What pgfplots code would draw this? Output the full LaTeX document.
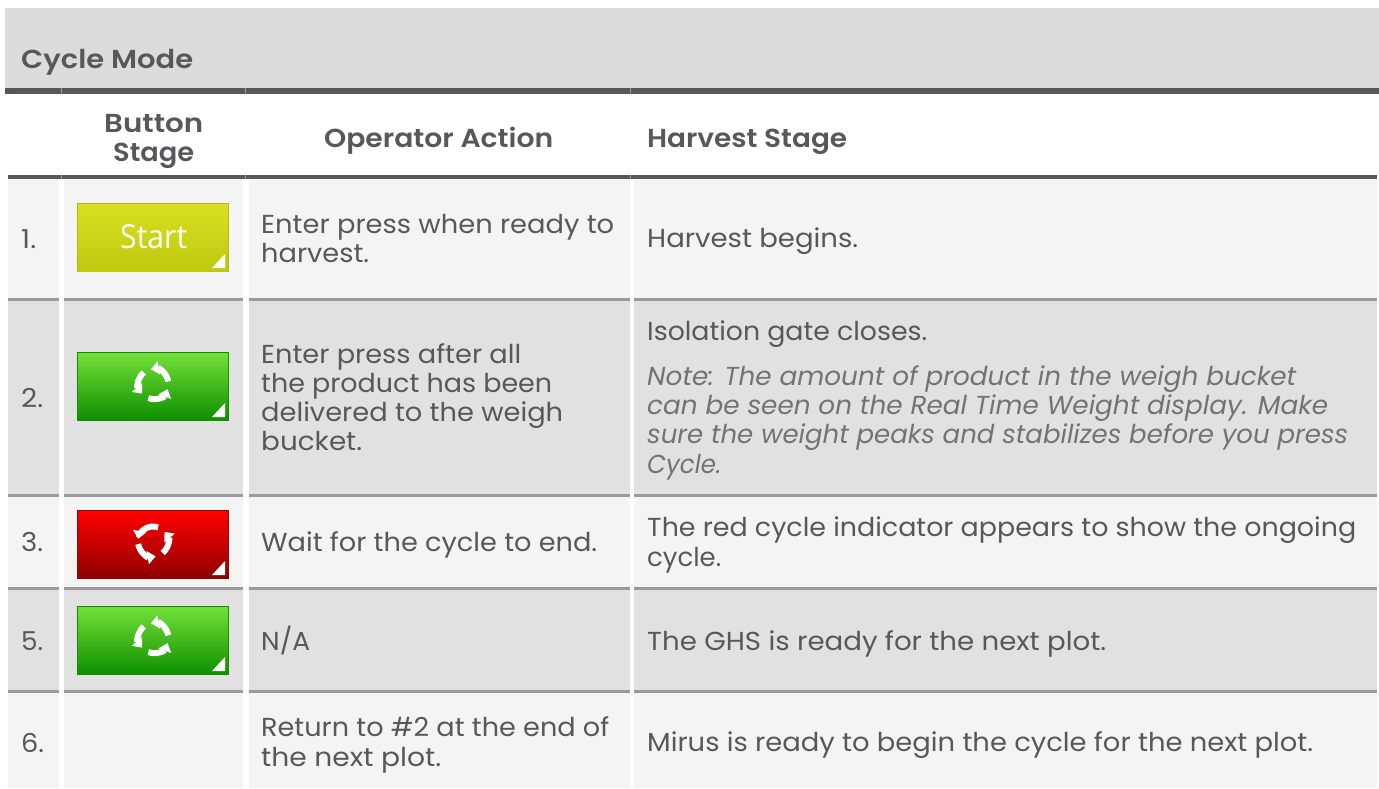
\documentclass[border=0pt]{standalone}
\usepackage{fontspec}
\setmainfont[BoldFont={Poppins SemiBold}]{Poppins}
\newfontfamily\startfont{Open Sans}
\usepackage{graphicx}
\usepackage{pgfplots}
\pgfplotsset{compat=1.18}
\usetikzlibrary{arrows.meta}
\definecolor{ink}{HTML}{55595B}
\definecolor{note}{HTML}{707476}
\definecolor{rowa}{HTML}{F4F4F4}
\definecolor{rowb}{HTML}{E1E1E1}
\definecolor{head}{HTML}{DCDCDC}
\definecolor{sep}{HTML}{9A9A9A}
\definecolor{ytop}{HTML}{D9E021}
\definecolor{ybot}{HTML}{C0C810}
\definecolor{yedge}{HTML}{B0B70C}
\definecolor{gtop}{HTML}{72E038}
\definecolor{gbot}{HTML}{0F8F00}
\definecolor{gedge}{HTML}{108A00}
\definecolor{rtop}{HTML}{FF0000}
\definecolor{rbot}{HTML}{8E0000}
\definecolor{redge}{HTML}{7A1010}
\newsavebox\fitbox
\newcommand\fitw[2]{\sbox\fitbox{#2}\pgfmathsetmacro\fitscale{#1/\wd\fitbox}\scalebox{\fitscale}[1]{\usebox\fitbox}}
% x0 x1 baseline text
\newcommand\T[4]{\node[anchor=base west,inner sep=0pt,text=ink,font=\fontsize{26}{29}\selectfont] at (axis cs:#1,#3) {\pgfmathsetmacro\wdt{#2-#1}\fitw{\wdt}{#4}};}
\newcommand\B[4]{\node[anchor=base west,inner sep=0pt,text=ink,font=\fontsize{26}{29}\selectfont\bfseries] at (axis cs:#1,#3) {\pgfmathsetmacro\wdt{#2-#1}\fitw{\wdt}{#4}};}
\newcommand\I[4]{\node[anchor=base west,inner sep=0pt,text=note,font=\fontsize{26}{29}\selectfont\itshape] at (axis cs:#1,#3) {\pgfmathsetmacro\wdt{#2-#1}\fitw{\wdt}{#4}};}
\newcommand\R[5]{\addplot[draw=none,fill=#5] coordinates {(#1,#2) (#3,#2) (#3,#4) (#1,#4)} -- cycle;}
\newcommand\Rows[3]{\R{8}{#1}{59}{#2}{#3}\R{64}{#1}{243}{#2}{#3}\R{249}{#1}{630}{#2}{#3}\R{634}{#1}{1377}{#2}{#3}}
\newcommand\Shade[6]{\addplot[draw=none,top color=#5,bottom color=#6] coordinates {(#1,#2) (#3,#2) (#3,#4) (#1,#4)} -- cycle;}
\newcommand\Button[4]{\R{77}{#1}{229}{#1+69}{#4}\Shade{78}{#1+1}{228}{#1+68}{#2}{#3}\addplot[draw=none,fill=white] coordinates {(225,#1+51) (225,#1+65) (212,#1+65)} -- cycle;}
\newcommand\Arc[4]{\draw[white,line width=6pt,-{Triangle[width=13pt,length=8pt]}] (axis cs:#1,#2) ++(#3:15pt) arc[start angle=#3,end angle=#4,radius=15pt];}
\begin{document}
\begin{tikzpicture}
\begin{axis}[
  scale only axis,width=1379pt,height=788pt,
  xmin=0,xmax=1379,ymin=0,ymax=788,y dir=reverse,
  hide axis,no markers,clip=true]
\R{0}{0}{1379}{788}{white}
\R{5}{8}{1379}{88}{head}
\R{5}{88}{1379}{94}{ink}
\R{8}{175}{1377}{178.5}{ink}
\R{61}{88}{62}{94}{sep}
\R{245}{88}{246}{94}{sep}
\R{630}{88}{631}{94}{sep}
\R{61}{175}{62}{178.5}{sep}
\R{245}{175}{246}{178.5}{sep}
\R{630}{175}{631}{178.5}{sep}
\Rows{178.5}{298}{rowa}
\Rows{298}{300.5}{sep}
\Rows{300.5}{494}{rowb}
\Rows{494}{496.5}{sep}
\Rows{496.5}{587}{rowa}
\Rows{587}{589.5}{sep}
\Rows{589.5}{690}{rowb}
\Rows{690}{692.5}{sep}
\Rows{692.5}{788}{rowa}
% buttons
\Button{203}{ytop}{ybot}{yedge}
\Button{352}{gtop}{gbot}{gedge}
\Button{510}{rtop}{rbot}{redge}
\Button{606}{gtop}{gbot}{gedge}
\node[anchor=base west,inner sep=0pt,text=white,font=\fontsize{33}{33}\startfont] at (axis cs:120,248) {\fitw{67}{Start}};
% cycle icons
\Arc{153.5}{384}{10}{100}\Arc{153.5}{384}{130}{220}\Arc{153.5}{384}{250}{340}
\Arc{153}{541.5}{70}{170}\Arc{153}{541.5}{-50}{40}\Arc{153}{541.5}{190}{280}
\Arc{153.5}{638}{10}{100}\Arc{153.5}{638}{130}{220}\Arc{153.5}{638}{250}{340}
% headings
\B{21}{193}{68}{Cycle Mode}
\B{104}{203}{132}{Button}
\B{113}{194}{161}{Stage}
\B{324}{553}{147}{Operator Action}
\B{647}{847}{147}{Harvest Stage}
% numbers
\T{21}{36}{248}{1.}
\T{21}{43}{407}{2.}
\T{21}{43}{551}{3.}
\T{21}{43}{650}{5.}
\T{21}{44}{752}{6.}
% operator action
\T{261}{614}{233}{Enter press when ready to}
\T{261}{369}{262}{harvest.}
\T{261}{521}{363}{Enter press after all}
\T{261}{552}{392}{the product has been}
\T{261}{563}{421}{delivered to the weigh}
\T{261}{362}{450}{bucket.}
\T{261}{597}{551}{Wait for the cycle to end.}
\T{261}{310}{650}{N/A}
\T{261}{609}{736}{Return to \#2 at the end of}
\T{261}{441}{766}{the next plot.}
% harvest stage
\T{647}{858}{247}{Harvest begins.}
\T{647}{927}{340}{Isolation gate closes.}
\I{647}{1296}{385}{Note: The amount of product in the weigh bucket}
\I{647}{1328}{414}{can be seen on the Real Time Weight display. Make}
\I{647}{1348}{443}{sure the weight peaks and stabilizes before you press}
\I{647}{721}{473}{Cycle.}
\T{647}{1356}{536}{The red cycle indicator appears to show the ongoing}
\T{647}{721}{566}{cycle.}
\T{647}{1106}{650}{The GHS is ready for the next plot.}
\T{647}{1313}{751}{Mirus is ready to begin the cycle for the next plot.}
\end{axis}
\end{tikzpicture}
\end{document}
